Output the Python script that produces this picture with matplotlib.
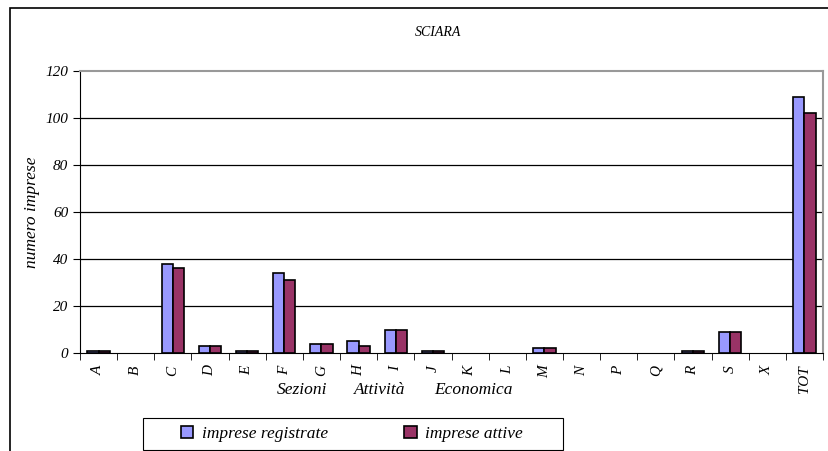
import matplotlib.pyplot as plt
import numpy as np
from matplotlib.patches import Rectangle

plt.rcParams['font.family'] = ['Liberation Serif', 'DejaVu Serif']
plt.rcParams['font.style'] = 'italic'

sezioni = ['A', 'B', 'C', 'D', 'E', 'F', 'G', 'H', 'I', 'J', 'K', 'L', 'M',
           'N', 'P', 'Q', 'R', 'S', 'X', 'TOT']
registrate = [1, 0, 38, 3, 1, 34, 4, 5, 10, 1, 0, 0, 2, 0, 0, 0, 1, 9, 0, 109]
attive = [1, 0, 36, 3, 1, 31, 4, 3, 10, 1, 0, 0, 2, 0, 0, 0, 1, 9, 0, 102]

blu = '#9999FF'
viola = '#993366'

fig = plt.figure(figsize=(8.29, 4.51), dpi=100)
ax = fig.add_axes([80 / 829, 98 / 451, 743 / 829, 282 / 451])

x = np.arange(len(sezioni))
w = 0.3
# zero values get no outline, so nothing shows for them
ax.bar(x - w / 2, registrate, w, color=blu, linewidth=1.2,
       edgecolor=['black' if v else 'none' for v in registrate],
       label='imprese registrate', zorder=3)
ax.bar(x + w / 2, attive, w, color=viola, linewidth=1.2,
       edgecolor=['black' if v else 'none' for v in attive],
       label='imprese attive', zorder=3)

ax.set_xlim(-0.5, len(sezioni) - 0.5)
ax.set_ylim(0, 120)
ax.set_yticks(range(0, 121, 20))
for g in range(20, 101, 20):
    ax.axhline(g, color='black', linewidth=0.9, zorder=1)

ax.set_xticks(x)
ax.set_xticklabels(sezioni, rotation=90, fontsize=11)
ax.set_xticks(np.arange(-0.5, len(sezioni), 1), minor=True)
ax.tick_params(axis='x', which='major', length=0, pad=9)
ax.tick_params(axis='x', which='minor', length=5, direction='out', color='black')
ax.tick_params(axis='y', length=5, direction='out', labelsize=11)

ax.spines['left'].set_color('black')
ax.spines['bottom'].set_color('black')
ax.spines['top'].set_color('#999999')
ax.spines['right'].set_color('#999999')
ax.spines['top'].set_linewidth(1.5)
ax.spines['right'].set_linewidth(1.5)

ax.set_ylabel('numero imprese', fontsize=12.5, labelpad=4)
fig.text(438 / 829, 1 - 33 / 451, 'SCIARA', ha='center', va='center', fontsize=10)
for lab, cx in [('Sezioni', 302), ('Attività', 380), ('Economica', 473)]:
    fig.text(cx / 829, 1 - 390 / 451, lab, ha='center', va='center', fontsize=12.5)

leg = fig.legend(loc='center', bbox_to_anchor=(352 / 829, 1 - 434 / 451),
                 ncol=2, fontsize=12.5, frameon=False,
                 handlelength=0.7, handleheight=0.7, handletextpad=0.5,
                 columnspacing=4.4)
for h in leg.legend_handles:
    h.set_edgecolor('black')
    h.set_linewidth(1.2)

# legend box and outer chart frame
fig.patches.append(Rectangle((143 / 829, 1 / 451), 420 / 829, 32 / 451,
                             transform=fig.transFigure, fill=False,
                             edgecolor='black', linewidth=0.8))
fig.patches.append(Rectangle((10 / 829, -0.1), 1.0, 1.1 - 8 / 451, transform=fig.transFigure,
                             fill=False, edgecolor='black', linewidth=1.2))

fig.savefig('out.png', dpi=100)
